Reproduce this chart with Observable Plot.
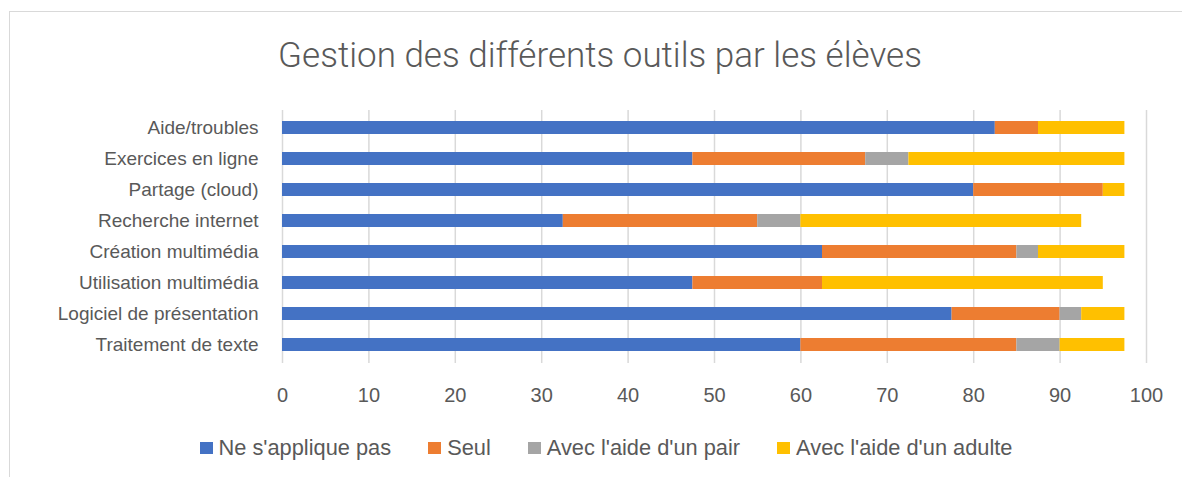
<!DOCTYPE html>
<html>
<head>
<meta charset="utf-8">
<script src="https://cdn.jsdelivr.net/npm/d3@7"></script>
<script src="https://cdn.jsdelivr.net/npm/@observablehq/plot@0.6"></script>
<style>
  body { margin: 0; background: #fff; }
  #wrap { position: relative; width: 1182px; height: 477px; overflow: hidden; font-family: "Liberation Sans", Arial, sans-serif; color: #595959; background: #fff; }
  #frame { position: absolute; left: 9px; top: 11px; width: 1300px; height: 600px; border-left: 1.5px solid #d9d9d9; border-top: 1.5px solid #d9d9d9; box-sizing: border-box; }
  #title { position: absolute; left: 0; width: 1200px; top: 36px; text-align: center; font-family: Roboto, "Liberation Sans", sans-serif; font-weight: 300; font-size: 35px; line-height: 40px; color: #595959; white-space: nowrap; }
  #chart { position: absolute; left: 0; top: 100px; }
  #legend { position: absolute; left: 0; width: 1212px; top: 435px; display: flex; justify-content: center; gap: 37px; font-size: 21.8px; line-height: 26px; color: #595959; white-space: nowrap; }
  .item { display: flex; align-items: center; }
  .sw { width: 13px; height: 12px; margin-right: 6px; display: inline-block; }
</style>
</head>
<body>
<div id="wrap">
  <div id="frame"></div>
  <div id="title">Gestion des différents outils par les élèves</div>
  <div id="chart"></div>
  <div id="legend"></div>
</div>
<script>
const categories = ["Aide/troubles", "Exercices en ligne", "Partage (cloud)", "Recherche internet", "Création multimédia", "Utilisation multimédia", "Logiciel de présentation", "Traitement de texte"];
const seriesNames = ["Ne s'applique pas", "Seul", "Avec l'aide d'un pair", "Avec l'aide d'un adulte"];
const neSappliquePas = [82.5, 47.5, 80, 32.5, 62.5, 47.5, 77.5, 60];
const seul = [5, 20, 15, 22.5, 22.5, 15, 12.5, 25];
const aidePair = [0, 5, 0, 5, 2.5, 0, 2.5, 5];
const aideAdulte = [10, 25, 2.5, 32.5, 10, 32.5, 5, 7.5];
const seriesColors = ["#4472C4", "#ED7D31", "#A5A5A5", "#FFC000"];
const xTicks = [0, 10, 20, 30, 40, 50, 60, 70, 80, 90, 100];

const seriesValues = [neSappliquePas, seul, aidePair, aideAdulte];
const data = [];
seriesNames.forEach((s, i) => {
  categories.forEach((c, j) => {
    data.push({series: s, category: c, value: seriesValues[i][j]});
  });
});

const chart = Plot.plot({
  width: 1182,
  height: 308,
  marginLeft: 282,
  marginRight: 36,
  marginTop: 10,
  marginBottom: 45,
  style: {color: "#595959", fontFamily: "'Liberation Sans', Arial, sans-serif", background: "transparent"},
  x: {domain: [0, 100]},
  y: {domain: categories, paddingInner: 0.575, paddingOuter: 0.2875},
  color: {domain: seriesNames, range: seriesColors},
  marks: [
    Plot.gridX(xTicks, {stroke: "#d9d9d9", strokeOpacity: 1, strokeWidth: 1.5}),
    Plot.barX(data, {x: "value", y: "category", fill: "series"}),
    Plot.axisX({ticks: xTicks, tickSize: 0, tickPadding: 24, fontSize: 20, label: null, tickFormat: d => String(d)}),
    Plot.axisY({tickSize: 0, tickPadding: 24, fontSize: 19, label: null})
  ]
});
document.getElementById("chart").appendChild(chart);

const legend = document.getElementById("legend");
seriesNames.forEach((s, i) => {
  const it = document.createElement("div");
  it.className = "item";
  const sw = document.createElement("span");
  sw.className = "sw";
  sw.style.background = seriesColors[i];
  it.appendChild(sw);
  const t = document.createElement("span");
  t.textContent = s;
  it.appendChild(t);
  legend.appendChild(it);
});
</script>
</body>
</html>
